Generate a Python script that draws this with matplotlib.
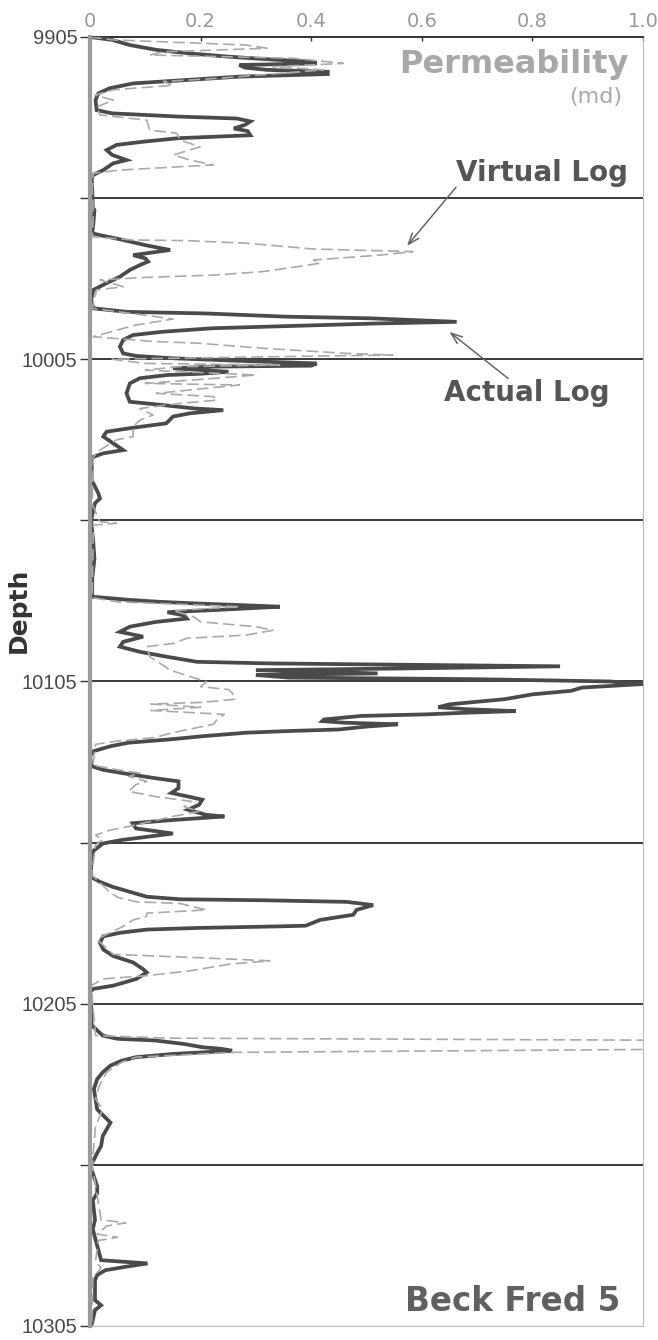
import numpy as np
import matplotlib
matplotlib.use('Agg')
import matplotlib.pyplot as plt

# Beck Fred 5 - permeability (md) vs depth (ft)
# actual log (core-derived)
actual_depth = [
    9905.0, 9905.9, 9907.5, 9909.0, 9910.1, 9911.1, 9911.9, 9912.7, 9913.2, 9913.7,
    9914.5, 9915.2, 9915.8, 9916.5, 9917.3, 9918.3, 9919.4, 9920.9, 9922.5, 9924.6,
    9927.7, 9928.7, 9929.7, 9930.3, 9931.2, 9932.3, 9933.4, 9934.2, 9935.5, 9936.4,
    9937.5, 9938.5, 9940.1, 9941.6, 9943.2, 9944.2, 9946.3, 9947.8, 9948.9, 9952.5,
    9958.0, 9958.7, 9963.0, 9965.9, 9966.5, 9968.0, 9969.6, 9971.1, 9972.7, 9973.7,
    9974.7, 9975.8, 9977.3, 9979.4, 9981.4, 9983.5, 9986.6, 9989.2, 9990.3, 9990.8,
    9991.8, 9992.3, 9993.4, 9993.9, 9994.4, 9995.4, 9996.5, 9997.5, 9999.0, 10001.1,
    10003.2, 10004.0, 10004.7, 10005.5, 10006.3, 10007.0, 10007.3, 10007.8, 10008.9, 10009.5,
    10009.9, 10010.9, 10012.5, 10015.6, 10018.2, 10019.2, 10020.3, 10020.8, 10021.8, 10022.8,
    10024.9, 10026.4, 10027.5, 10029.0, 10031.1, 10033.2, 10034.2, 10035.3, 10036.3, 10042.5,
    10043.5, 10046.6, 10048.2, 10049.7, 10051.8, 10055.0, 10062.0, 10067.0, 10073.0, 10078.7,
    10079.7, 10080.3, 10080.8, 10081.3, 10081.8, 10082.8, 10083.5, 10084.5, 10085.5, 10086.5,
    10088.0, 10089.6, 10091.1, 10092.7, 10094.2, 10095.8, 10097.3, 10098.9, 10099.4, 10100.3,
    10101.0, 10101.5, 10102.5, 10103.0, 10103.8, 10104.3, 10105.0, 10105.8, 10106.9, 10107.9,
    10109.0, 10110.5, 10112.1, 10113.0, 10113.6, 10114.2, 10114.7, 10115.2, 10115.7, 10116.8,
    10117.3, 10117.8, 10118.3, 10119.0, 10119.9, 10120.4, 10120.9, 10122.0, 10123.0, 10124.0,
    10125.1, 10126.6, 10128.2, 10131.3, 10132.4, 10133.4, 10135.0, 10136.0, 10138.1, 10139.6,
    10140.7, 10141.7, 10143.3, 10144.8, 10146.4, 10146.9, 10148.0, 10149.0, 10150.6, 10152.2,
    10153.2, 10154.2, 10155.3, 10156.0, 10157.6, 10160.6, 10165.7, 10167.2, 10168.8, 10170.3,
    10171.8, 10172.6, 10172.9, 10173.4, 10174.4, 10175.9, 10177.4, 10179.0, 10180.8, 10181.0,
    10181.5, 10182.0, 10183.0, 10184.1, 10186.1, 10188.2, 10190.2, 10192.2, 10194.3, 10195.3,
    10197.3, 10199.4, 10200.4, 10201.4, 10205.0, 10211.7, 10212.8, 10214.9, 10215.9, 10216.4,
    10217.5, 10218.5, 10219.0, 10219.6, 10220.1, 10220.6, 10221.6, 10222.7, 10224.2, 10226.3,
    10228.4, 10231.5, 10234.6, 10237.8, 10241.9, 10244.0, 10246.1, 10249.2, 10251.3, 10253.4,
    10255.0, 10261.7, 10263.8, 10266.0, 10272.1, 10275.0, 10284.6, 10285.6, 10286.6, 10287.7,
    10289.2, 10290.8, 10297.0, 10298.6, 10300.1, 10303.2, 10305.0]
actual_perm = [
    0.0, 0.04, 0.072, 0.12, 0.18, 0.25, 0.32, 0.40, 0.41, 0.27,
    0.28, 0.32, 0.43, 0.43, 0.27, 0.18, 0.078, 0.036, 0.015, 0.01,
    0.012, 0.04, 0.16, 0.265, 0.29, 0.28, 0.26, 0.285, 0.29, 0.16,
    0.096, 0.048, 0.03, 0.04, 0.066, 0.042, 0.024, 0.006, 0.003, 0.004,
    0.005, 0.008, 0.006, 0.004, 0.018, 0.06, 0.10, 0.145, 0.078, 0.10,
    0.105, 0.09, 0.072, 0.054, 0.03, 0.006, 0.002, 0.006, 0.066, 0.21,
    0.356, 0.506, 0.663, 0.52, 0.42, 0.22, 0.13, 0.078, 0.06, 0.054,
    0.06, 0.084, 0.15, 0.27, 0.41, 0.40, 0.22, 0.15, 0.25, 0.20,
    0.14, 0.09, 0.072, 0.066, 0.072, 0.13, 0.19, 0.241, 0.18, 0.15,
    0.138, 0.072, 0.03, 0.024, 0.042, 0.06, 0.024, 0.006, 0.003, 0.003,
    0.006, 0.015, 0.018, 0.009, 0.006, 0.002, 0.006, 0.008, 0.004, 0.004,
    0.072, 0.127, 0.193, 0.271, 0.343, 0.23, 0.14, 0.17, 0.175, 0.12,
    0.072, 0.054, 0.096, 0.06, 0.054, 0.09, 0.138, 0.193, 0.324, 0.85,
    0.55, 0.30, 0.52, 0.30, 0.36, 0.70, 0.94, 1.0, 0.89, 0.87,
    0.80, 0.75, 0.65, 0.63, 0.68, 0.77, 0.68, 0.61, 0.49, 0.423,
    0.42, 0.46, 0.557, 0.50, 0.45, 0.357, 0.283, 0.203, 0.143, 0.07,
    0.037, 0.007, 0.0, 0.003, 0.023, 0.057, 0.117, 0.16, 0.16, 0.147,
    0.177, 0.203, 0.197, 0.177, 0.21, 0.243, 0.15, 0.077, 0.083, 0.15,
    0.103, 0.057, 0.023, 0.018, 0.006, 0.002, 0.002, 0.018, 0.042, 0.072,
    0.1025, 0.163, 0.313, 0.464, 0.512, 0.482, 0.476, 0.416, 0.39, 0.343,
    0.193, 0.1025, 0.054, 0.024, 0.018, 0.024, 0.042, 0.078, 0.096, 0.1025,
    0.084, 0.042, 0.006, 0.0, 0.002, 0.003, 0.01, 0.023, 0.05, 0.117,
    0.17, 0.203, 0.237, 0.257, 0.203, 0.15, 0.083, 0.057, 0.037, 0.023,
    0.013, 0.007, 0.01, 0.013, 0.037, 0.03, 0.023, 0.02, 0.013, 0.007,
    0.0, 0.013, 0.013, 0.005, 0.009, 0.005, 0.02, 0.104, 0.066, 0.028,
    0.013, 0.009, 0.009, 0.02, 0.009, 0.005, 0.002]

# virtual log (predicted)
virtual_depth = [
    9905.0, 9905.9, 9907.5, 9908.5, 9909.6, 9910.6, 9911.6, 9913.2, 9914.2, 9915.2,
    9916.3, 9917.8, 9918.8, 9920.0, 9921.4, 9923.0, 9924.6, 9926.7, 9929.2, 9930.8,
    9933.9, 9934.9, 9937.0, 9939.1, 9941.6, 9943.2, 9944.7, 9946.3, 9947.3, 9952.0,
    9960.0, 9967.0, 9968.0, 9968.2, 9969.0, 9970.8, 9971.6, 9972.7, 9974.2, 9975.2,
    9976.3, 9977.8, 9978.9, 9979.6, 9980.4, 9982.5, 9983.5, 9989.2, 9992.5, 9994.5,
    9998.0, 9999.5, 10000.0, 10001.6, 10003.2, 10003.7, 10004.3, 10005.0, 10006.3, 10006.8,
    10007.3, 10008.4, 10009.9, 10011.4, 10012.5, 10013.0, 10015.6, 10016.6, 10017.7, 10018.7,
    10020.3, 10022.3, 10023.9, 10026.0, 10029.0, 10030.0, 10033.2, 10035.3, 10050.0, 10055.4,
    10055.9, 10056.5, 10079.0, 10080.3, 10081.8, 10083.0, 10084.9, 10086.5, 10088.0, 10089.1,
    10090.6, 10091.6, 10093.2, 10094.2, 10097.3, 10099.4, 10101.5, 10103.5, 10105.1, 10106.6,
    10107.5, 10108.5, 10110.5, 10111.5, 10112.0, 10113.0, 10114.0, 10115.2, 10116.8, 10118.3,
    10119.9, 10120.9, 10122.4, 10123.5, 10124.5, 10131.0, 10132.4, 10133.4, 10134.5, 10136.0,
    10137.0, 10139.1, 10140.7, 10142.2, 10143.8, 10145.3, 10146.9, 10150.0, 10151.1, 10152.7,
    10154.2, 10155.7, 10165.0, 10170.3, 10172.0, 10173.4, 10173.9, 10175.9, 10176.9, 10177.9,
    10179.0, 10181.0, 10185.0, 10189.7, 10190.7, 10191.7, 10192.7, 10194.8, 10196.3, 10197.3,
    10199.4, 10214.9, 10215.7, 10217.4, 10220.1, 10221.6, 10223.2, 10226.3, 10230.4, 10234.6,
    10237.8, 10243.0, 10255.0, 10272.1, 10273.0, 10274.0, 10276.5, 10277.5, 10278.5, 10285.0,
    10287.0, 10290.0, 10305.0]
virtual_perm = [
    0.0, 0.042, 0.283, 0.32, 0.133, 0.108, 0.368, 0.458, 0.331, 0.422,
    0.343, 0.235, 0.133, 0.15, 0.042, 0.009, 0.042, 0.012, 0.018, 0.1025,
    0.108, 0.157, 0.163, 0.199, 0.151, 0.181, 0.223, 0.054, 0.006, 0.004,
    0.006, 0.004, 0.078, 0.175, 0.283, 0.404, 0.584, 0.524, 0.404, 0.416,
    0.374, 0.313, 0.223, 0.1025, 0.018, 0.06, 0.012, 0.004, 0.15, 0.08,
    0.006, 0.114, 0.193, 0.313, 0.464, 0.548, 0.30, 0.04, 0.10, 0.343,
    0.16, 0.10, 0.30, 0.19, 0.10, 0.27, 0.12, 0.223, 0.23, 0.163,
    0.09, 0.114, 0.09, 0.078, 0.078, 0.048, 0.018, 0.006, 0.004, 0.018,
    0.048, 0.006, 0.004, 0.05, 0.271, 0.15, 0.187, 0.20, 0.30, 0.331,
    0.283, 0.175, 0.151, 0.1025, 0.108, 0.127, 0.145, 0.181, 0.211, 0.20,
    0.25, 0.257, 0.263, 0.203, 0.11, 0.20, 0.11, 0.243, 0.23, 0.223,
    0.177, 0.15, 0.117, 0.05, 0.01, 0.005, 0.05, 0.09, 0.07, 0.103,
    0.083, 0.07, 0.117, 0.183, 0.17, 0.197, 0.15, 0.07, 0.037, 0.01,
    0.023, 0.01, 0.003, 0.035, 0.05, 0.084, 0.163, 0.211, 0.1025, 0.1025,
    0.078, 0.06, 0.012, 0.042, 0.193, 0.325, 0.253, 0.181, 0.1025, 0.024,
    0.002, 0.01, 0.143, 2.5, 0.263, 0.083, 0.057, 0.03, 0.017, 0.01,
    0.023, 0.01, 0.004, 0.02, 0.065, 0.03, 0.013, 0.05, 0.015, 0.01,
    0.02, 0.005, 0.003]

x_ticks = [0, 0.2, 0.4, 0.6, 0.8, 1.0]
x_labels = ['0', '0.2', '0.4', '0.6', '0.8', '1.0']
depth_top, depth_bot = 9905, 10305
zone_lines = list(range(9955, 10305, 50))
depth_labels = list(range(9905, 10306, 100))

fig = plt.figure(figsize=(6.58, 13.40), dpi=100)
ax = fig.add_axes([0.1368, 0.0105, 0.8404, 0.9619])

ax.plot(actual_perm, actual_depth, color='#4a4a4a', lw=2.7, zorder=3,
        solid_joinstyle='miter')
ax.plot(virtual_perm, virtual_depth, color='#aaaaaa', lw=1.2, zorder=4,
        linestyle=(0, (7, 3)))

for d in zone_lines:
    ax.axhline(d, color='#2b2b2b', lw=1.3, zorder=2)

ax.set_xlim(0, 1.0)
ax.set_ylim(depth_bot, depth_top)

ax.xaxis.tick_top()
ax.set_xticks(x_ticks)
ax.set_xticklabels(x_labels)
ax.tick_params(axis='x', direction='in', length=3, width=1, color='#333',
               labelsize=14, labelcolor='#999999', pad=4)

ax.set_yticks(list(range(9905, 10306, 50)))
ax.set_yticklabels([str(d) if d in depth_labels else '' for d in range(9905, 10306, 50)],
                   family='Liberation Sans')
ax.tick_params(axis='y', direction='out', length=7, width=1, color='#333',
               labelsize=14.5, labelcolor='#4a4a4a', pad=2)

ax.spines['top'].set_color('#222222')
ax.spines['top'].set_linewidth(1.3)
ax.spines['left'].set_color('#9a9a9a')
ax.spines['left'].set_linewidth(3)
ax.spines['left'].set_zorder(5)
ax.spines['right'].set_color('#bbbbbb')
ax.spines['bottom'].set_color('#bbbbbb')

ax.set_ylabel('Depth', fontsize=18, fontweight='bold', color='#333333')
ax.yaxis.set_label_coords(-0.108, 0.555)

ax.text(0.973, 9913.5, 'Permeability', ha='right', va='center', fontsize=23,
        fontweight='bold', color='#a8a8a8')
ax.text(0.962, 9923.5, '(md)', ha='right', va='center', fontsize=16,
        color='#a8a8a8')
ax.text(0.973, 9947.2, 'Virtual Log', ha='right', va='center', fontsize=20,
        fontweight='bold', color='#555555')
ax.text(0.940, 10015.5, 'Actual Log', ha='right', va='center', fontsize=20,
        fontweight='bold', color='#555555')
ax.text(0.958, 10297.5, 'Beck Fred 5', ha='right', va='center', fontsize=23.5,
        fontweight='bold', color='#606060')

arrow = dict(arrowstyle='->,head_length=0.8,head_width=0.3', lw=1.1, color='#666666')
ax.annotate('', xy=(0.57, 9970.5), xytext=(0.665, 9951.0), arrowprops=arrow, zorder=6)
ax.annotate('', xy=(0.646, 9996.0), xytext=(0.76, 10011.5), arrowprops=arrow, zorder=6)

fig.savefig('out.png', dpi=100)
